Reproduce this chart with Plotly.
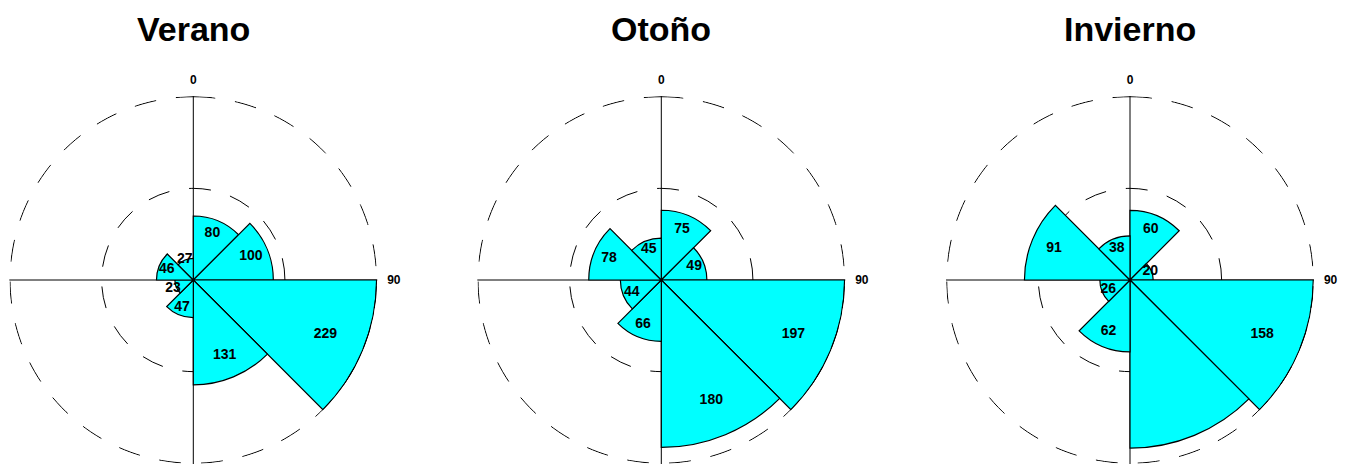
import plotly.graph_objects as go

# ---- data ----
seasons = ["Verano", "Otoño", "Invierno"]
sector_centers = [22.5, 67.5, 112.5, 157.5, 202.5, 247.5, 292.5, 337.5]
verano = [80, 100, 229, 131, 47, 23, 46, 27]
otono = [75, 49, 197, 180, 66, 44, 78, 45]
invierno = [60, 20, 158, 145, 62, 26, 91, 38]
verano_labels = ["80", "100", "229", "131", "47", "23", "46", "27"]
otono_labels = ["75", "49", "197", "180", "66", "44", "78", "45"]
invierno_labels = ["60", "20", "158", "", "62", "26", "91", "38"]
angle_ticks = [0, 90, 180, 270]
angle_ticktext = ["0", "90", "", ""]

series = [verano, otono, invierno]
labels = [verano_labels, otono_labels, invierno_labels]

W, H = 1354, 464
TOP = 96
centers_px = [193.3, 661.3, 1130.0]
R_PX = 184.0
DASH = "22px,20px"
circle_theta = [a * 2 for a in range(181)]

SANS = "Liberation Sans, Arial, sans-serif"

fig = go.Figure()
layout_polars = {}
annotations = []
for i, (name, vals, labs) in enumerate(zip(seasons, series, labels)):
    pid = "polar" if i == 0 else f"polar{i+1}"
    vmax = max(vals)
    # outer dashed ring at the maximum value (drawn beneath the bars)
    fig.add_trace(go.Scatterpolar(
        r=[vmax] * len(circle_theta), theta=circle_theta, mode="lines",
        line=dict(color="black", width=1, dash=DASH),
        subplot=pid, showlegend=False, hoverinfo="skip",
    ))
    fig.add_trace(go.Barpolar(
        r=vals, theta=sector_centers, width=[45] * len(vals),
        marker=dict(color="#00FFFF", line=dict(color="black", width=1.2)),
        subplot=pid, showlegend=False, hoverinfo="r+theta",
    ))
    lab_r = [max(0.78 * v, 0.12 * vmax) for v in vals]
    fig.add_trace(go.Scatterpolar(
        r=lab_r, theta=sector_centers, mode="text", text=labs,
        textfont=dict(family=SANS, size=14, color="black", weight="bold"),
        subplot=pid, showlegend=False, hoverinfo="skip",
    ))
    cx = centers_px[i]
    layout_polars[pid] = dict(
        domain=dict(x=[(cx - R_PX) / W, (cx + R_PX) / W], y=[0, 1]),
        bgcolor="white",
        radialaxis=dict(
            range=[0, vmax * 1.004], tickvals=[vmax / 2], showticklabels=False,
            ticks="", showline=False, gridcolor="black", gridwidth=1,
            griddash=DASH, angle=90,
        ),
        angularaxis=dict(
            rotation=90, direction="clockwise", tickvals=angle_ticks,
            ticktext=angle_ticktext, ticks="outside", ticklen=7,
            tickcolor="rgba(0,0,0,0)", showline=False,
            gridcolor="black", gridwidth=1.2,
            tickfont=dict(family=SANS, size=12, color="black", weight="bold"),
        ),
    )
    annotations.append(dict(
        text=f"<b>{name}</b>", x=cx / W, y=1 + (TOP - 29) / (H - TOP),
        xref="paper", yref="paper", xanchor="center", yanchor="middle",
        showarrow=False, font=dict(family=SANS, size=34, color="black"),
    ))

fig.update_layout(
    width=W, height=H, margin=dict(l=0, r=0, t=TOP, b=0),
    paper_bgcolor="white", plot_bgcolor="white",
    annotations=annotations, **layout_polars,
)
fig.write_html("out.html", config={"displayModeBar": False},
               post_script="document.body.style.margin='0';")
